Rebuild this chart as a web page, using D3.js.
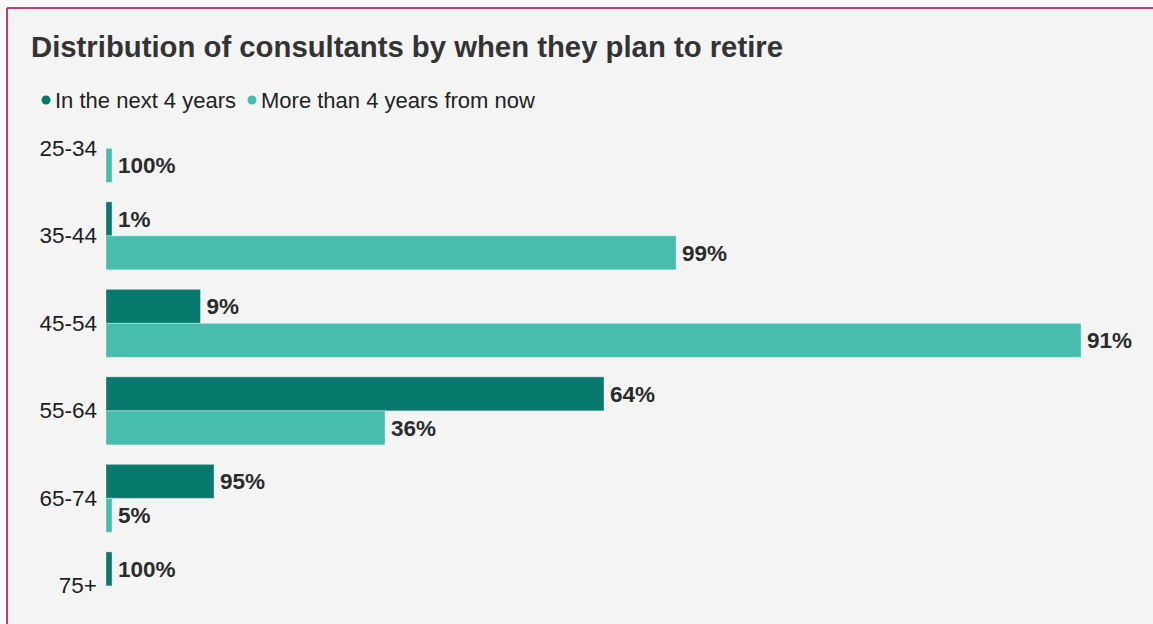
<!DOCTYPE html>
<html>
<head>
<meta charset="utf-8">
<script src="https://cdn.jsdelivr.net/npm/d3@7"></script>
<style>
  html, body { margin: 0; padding: 0; background: #ffffff; }
  svg { display: block; font-family: "Liberation Sans", Arial, Helvetica, sans-serif; }
</style>
</head>
<body>
<svg id="chart" width="1153" height="624"></svg>
<script>
// Age bands of consultants
const ageGroups = ["25-34", "35-44", "45-54", "55-64", "65-74", "75+"];
// Series names
const seriesNames = ["In the next 4 years", "More than 4 years from now"];
// Number of consultants per age band, by planned retirement timing
const nextFourYears = [0, 4, 63, 332, 72, 4];
const laterThanFourYears = [4, 380, 650, 186, 4, 0];
const seriesColors = ["#077a6d", "#47bead"];

const title = "Distribution of consultants by when they plan to retire";

const svg = d3.select("#chart");
const W = 1153, H = 624;

// Panel with a thin magenta frame along the top and left
svg.append("rect").attr("x", 0).attr("y", 0).attr("width", W).attr("height", H).attr("fill", "#ffffff");
svg.append("rect").attr("x", 7).attr("y", 8).attr("width", W - 7).attr("height", H - 8).attr("fill", "#f4f4f4");
svg.append("line").attr("x1", 7).attr("x2", W).attr("y1", 8).attr("y2", 8)
  .attr("stroke", "#c43a7c").attr("stroke-width", 2);
svg.append("line").attr("x1", 7).attr("x2", 7).attr("y1", 8).attr("y2", H)
  .attr("stroke", "#c43a7c").attr("stroke-width", 2);

// Title
svg.append("text").attr("x", 31).attr("y", 57)
  .attr("font-size", 29.3).attr("font-weight", "bold").attr("fill", "#333333")
  .text(title);

// Legend
const legend = svg.append("g").attr("transform", "translate(0,100)");
let lx = 46;
seriesNames.forEach((name, i) => {
  legend.append("circle").attr("cx", lx).attr("cy", 0).attr("r", 4.5).attr("fill", seriesColors[i]);
  const t = legend.append("text").attr("x", lx + 9).attr("y", 0).attr("dy", "0.35em")
    .attr("font-size", 22).attr("fill", "#222222").text(name);
  lx = lx + 9 + t.node().getComputedTextLength() + 16;
});

// Rows: each age band holds the two series
const rows = ageGroups.map((g, i) => ({
  group: g,
  values: [nextFourYears[i], laterThanFourYears[i]]
}));

const x = d3.scaleLinear()
  .domain([0, d3.max(rows, r => d3.max(r.values))])
  .range([106, 1081]);

const y = d3.scaleBand()
  .domain(ageGroups)
  .range([104.6, 629.6])
  .paddingInner(0.223)
  .paddingOuter(0.1115);

const ySub = d3.scaleBand()
  .domain(d3.range(seriesNames.length))
  .range([0, y.bandwidth()]);

const pct = d3.format(".0%");

// Category axis
const yAxis = svg.append("g")
  .attr("transform", "translate(106,0)")
  .call(d3.axisLeft(y).tickSize(0).tickPadding(9));
yAxis.select(".domain").remove();
yAxis.selectAll("text")
  .attr("font-size", 22.5).attr("fill", "#1e1e1e")
  .style("font-family", "\"Liberation Sans\", Arial, sans-serif");

// Bars and share labels
const groups = svg.append("g").selectAll("g")
  .data(rows).join("g")
  .attr("transform", d => `translate(0,${y(d.group)})`);

const cells = groups.selectAll("g")
  .data(d => {
    const total = d3.sum(d.values);
    return d.values.map((v, i) => ({ v, i, share: total ? v / total : 0 }));
  })
  .join("g")
  .filter(d => d.v > 0);

cells.append("rect")
  .attr("x", x(0))
  .attr("y", d => ySub(d.i))
  .attr("width", d => x(d.v) - x(0))
  .attr("height", ySub.bandwidth())
  .attr("fill", d => seriesColors[d.i])
  .attr("stroke", "rgba(255,255,255,0.35)")
  .attr("stroke-width", 1);

cells.append("text")
  .attr("x", d => x(d.v) + 6)
  .attr("y", d => ySub(d.i) + ySub.bandwidth() / 2)
  .attr("dy", "0.36em")
  .attr("font-size", 22.5).attr("font-weight", "bold").attr("fill", "#2b2b2b")
  .text(d => pct(d.share));
</script>
</body>
</html>
